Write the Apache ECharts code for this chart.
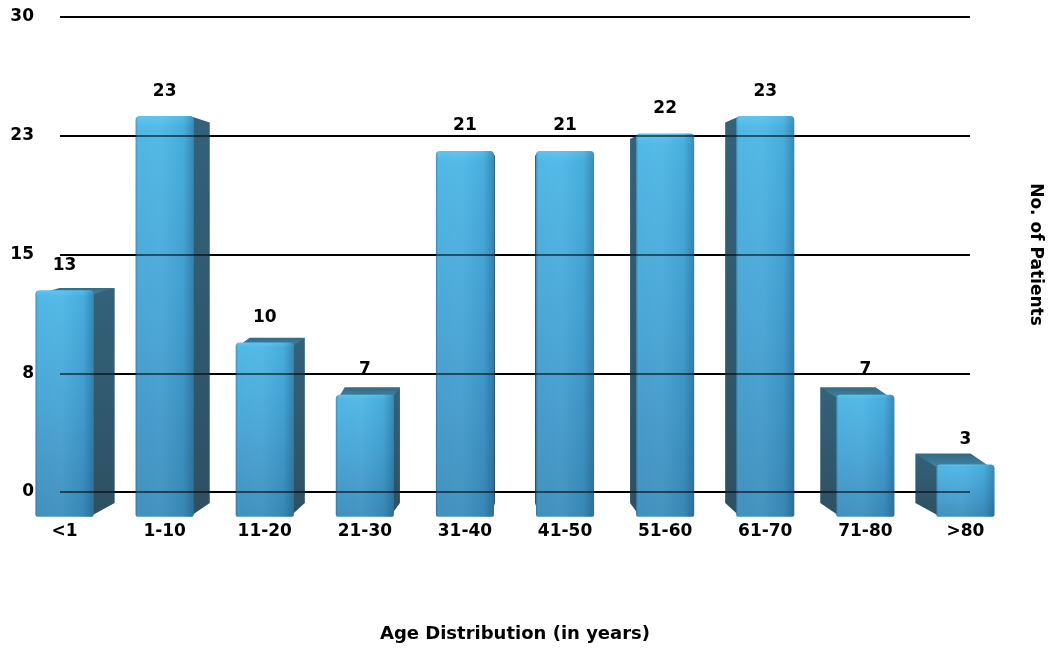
<!DOCTYPE html>
<html>
<head>
<meta charset="utf-8">
<script src="https://cdn.jsdelivr.net/npm/echarts@6/dist/echarts.min.js"></script>
<style>
  html, body { margin: 0; padding: 0; background: #fff; }
  #chart { width: 1051px; height: 651px; }
</style>
</head>
<body>
<div id="chart"></div>
<script>
// Age groups and patient counts
const categories = ['<1', '1-10', '11-20', '21-30', '31-40', '41-50', '51-60', '61-70', '71-80', '>80'];
const patients = [13, 23, 10, 7, 21, 21, 22, 23, 7, 3];

// Value-axis ticks and their printed labels
const yTickValues = [0, 7.5, 15, 22.5, 30];
const yTickLabels = ['0', '8', '15', '23', '30'];

const FONT = '"DejaVu Sans", "Liberation Sans", sans-serif';

// Camera for the pseudo-3D boxes: the front face sits in front of the grid plane,
// scaled about a vanishing point near the middle of the plot.
const FRONT_SCALE = 1.10;
const BACK_SCALE = FRONT_SCALE * 0.95;
const VP_Y_FRAC = 0.48;
const BAR_FRAC = 0.58;

function renderBox(params, api) {
  const cs = params.coordSys;
  const vpx = cs.x + cs.width / 2;
  const vpy = cs.y + cs.height * VP_Y_FRAC;
  const idx = api.value(0);
  const val = api.value(1);
  const topPt = api.coord([idx, val]);
  const basePt = api.coord([idx, 0]);
  const half = api.size([1, 0])[0] * BAR_FRAC / 2;

  const px = (x, k) => vpx + (x - vpx) * k;
  const py = (y, k) => vpy + (y - vpy) * k;

  const x0 = px(topPt[0] - half, FRONT_SCALE), x1 = px(topPt[0] + half, FRONT_SCALE);
  const yT = py(topPt[1], FRONT_SCALE), yB = py(basePt[1], FRONT_SCALE);
  const bx0 = px(topPt[0] - half, BACK_SCALE), bx1 = px(topPt[0] + half, BACK_SCALE);
  const byT = py(topPt[1], BACK_SCALE), byB = py(basePt[1], BACK_SCALE);

  const children = [];
  const sideFill = new echarts.graphic.LinearGradient(0, 0, 0, 1, [
    { offset: 0, color: '#33627a' },
    { offset: 1, color: '#2e5061' }
  ]);

  // Side faces and lid are drawn first and tucked under the front face
  if (x1 < vpx) {
    children.push({
      type: 'polygon',
      shape: { points: [[x1 - 4, yT], [bx1, byT], [bx1, byB], [x1 - 4, yB]] },
      style: { fill: sideFill }
    });
  }
  if (x0 > vpx) {
    children.push({
      type: 'polygon',
      shape: { points: [[x0 + 4, yT], [bx0, byT], [bx0, byB], [x0 + 4, yB]] },
      style: { fill: sideFill }
    });
  }
  if (yT > vpy) {
    children.push({
      type: 'polygon',
      shape: { points: [[x0 + 2, yT + 4], [x1 - 2, yT + 4], [bx1, byT], [bx0, byT]] },
      style: {
        fill: new echarts.graphic.LinearGradient(0, 0, 0, 1, [
          { offset: 0, color: '#356a84' },
          { offset: 1, color: '#3f85a8' }
        ])
      }
    });
  }

  // Front face
  children.push({
    type: 'rect',
    shape: { x: x0, y: yT, width: x1 - x0, height: yB - yT, r: [4, 4, 2, 2] },
    style: {
      fill: new echarts.graphic.LinearGradient(0, 0, 0, 1, [
        { offset: 0, color: '#55c2ef' },
        { offset: 0.03, color: '#4ab5e4' },
        { offset: 0.5, color: '#43a2d4' },
        { offset: 1, color: '#3a8cbb' }
      ])
    }
  });
  // Cylindrical sheen across the front face
  children.push({
    type: 'rect',
    shape: { x: x0, y: yT, width: x1 - x0, height: yB - yT, r: [4, 4, 2, 2] },
    style: {
      fill: new echarts.graphic.LinearGradient(0, 0, 1, 0, [
        { offset: 0, color: 'rgba(20,55,80,0.30)' },
        { offset: 0.07, color: 'rgba(255,255,255,0.04)' },
        { offset: 0.45, color: 'rgba(255,255,255,0.06)' },
        { offset: 0.82, color: 'rgba(10,40,70,0.05)' },
        { offset: 1, color: 'rgba(10,40,70,0.30)' }
      ])
    }
  });
  // Count printed above the box
  children.push({
    type: 'text',
    style: {
      text: String(val),
      x: (x0 + x1) / 2,
      y: yT - 25,
      align: 'center',
      verticalAlign: 'middle',
      font: 'bold 17px ' + FONT,
      fill: '#000'
    }
  });

  return { type: 'group', children: children };
}

const chart = echarts.init(document.getElementById('chart'), null, { renderer: 'canvas' });

const plotLeft = 60, plotRight = 81, plotTop = 17, plotBottom = 159;
const plotWidth = 1051 - plotLeft - plotRight;
const vpX = plotLeft + plotWidth / 2;
// The category labels sit under the front faces, so their axis spans the projected width
const labelLeft = vpX - (vpX - plotLeft) * FRONT_SCALE;
const labelRight = 1051 - (vpX + (vpX - plotLeft) * FRONT_SCALE);

chart.setOption({
  backgroundColor: '#ffffff',
  animation: false,
  grid: [
    { left: plotLeft, right: plotRight, top: plotTop, bottom: plotBottom, outerBoundsMode: 'none', containLabel: false },
    { left: labelLeft, right: labelRight, top: plotTop, bottom: plotBottom, outerBoundsMode: 'none', containLabel: false }
  ],
  xAxis: [
    {
      type: 'category', gridIndex: 0, data: categories,
      axisLine: { show: false }, axisTick: { show: false }, axisLabel: { show: false }
    },
    {
      type: 'category', gridIndex: 1, data: categories,
      axisLine: { show: false }, axisTick: { show: false },
      axisLabel: { margin: 31, color: '#000', fontSize: 17, fontWeight: 'bold', fontFamily: FONT },
      name: 'Age Distribution (in years)',
      nameLocation: 'middle', nameGap: 133,
      nameTextStyle: { color: '#000', fontSize: 18, fontWeight: 'bold', fontFamily: FONT }
    }
  ],
  yAxis: [
    {
      type: 'value', gridIndex: 0, min: 0, max: 30, interval: 7.5,
      axisLine: { show: false }, axisTick: { show: false },
      axisLabel: {
        margin: 26, color: '#000', fontSize: 17, fontWeight: 'bold', fontFamily: FONT,
        formatter: function (v) {
          const i = yTickValues.indexOf(v);
          return i >= 0 ? yTickLabels[i] : '';
        }
      },
      splitLine: { show: true, lineStyle: { color: '#000', width: 2 } }
    },
    {
      type: 'value', gridIndex: 0, min: 0, max: 30, interval: 7.5, position: 'right',
      axisLine: { show: false }, axisTick: { show: false }, axisLabel: { show: false },
      splitLine: { show: false },
      name: 'No. of Patients', nameLocation: 'middle', nameGap: 57, nameRotate: -90,
      nameTextStyle: { color: '#000', fontSize: 17, fontWeight: 'bold', fontFamily: FONT }
    },
    {
      type: 'value', gridIndex: 1, min: 0, max: 30, show: false
    }
  ],
  series: [
    {
      type: 'custom',
      xAxisIndex: 0,
      yAxisIndex: 0,
      data: patients.map((v, i) => [i, v]),
      encode: { x: 0, y: 1 },
      renderItem: renderBox,
      clip: false,
      silent: true,
      // Rules show through the boxes
      markLine: {
        silent: true,
        symbol: ['none', 'none'],
        label: { show: false },
        lineStyle: { color: 'rgba(0,0,0,0.55)', width: 2, type: 'solid' },
        data: yTickValues.map(v => ({ yAxis: v }))
      }
    }
  ]
});
</script>
</body>
</html>
